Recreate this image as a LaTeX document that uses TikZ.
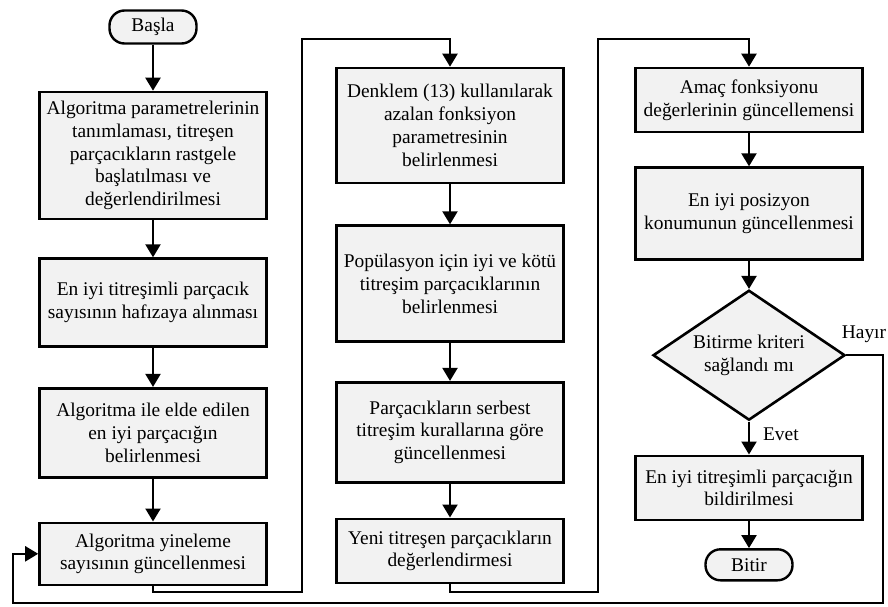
\documentclass[tikz,border=0pt]{standalone}
\usepackage{fontspec}
\setmainfont{Liberation Serif}
\usetikzlibrary{arrows.meta, positioning, shapes.geometric}
\definecolor{boxfill}{HTML}{F2F2F2}
\newcommand{\flowfont}{\fontsize{19.4}{22.8}\selectfont}
\tikzset{
  procbox/.style={
    draw=black, fill=boxfill, line width=2.6pt, align=center,
    inner sep=2pt, minimum width=227pt, minimum height=#1, font=\flowfont
  },
  procbox/.default=60pt,
  termbox/.style={
    draw=black, fill=boxfill, rounded corners=15pt, line width=2.4pt,
    minimum width=87pt, minimum height=#1, inner sep=2pt, font=\flowfont
  },
  termbox/.default=32pt,
  decbox/.style={
    diamond, draw=black, fill=boxfill, line width=2.6pt, align=center,
    aspect=1.5, inner sep=0pt, minimum width=192pt, minimum height=130pt,
    font=\flowfont
  },
  flowlbl/.style={font=\flowfont, inner sep=0pt},
  arrow/.style={-{Triangle[length=13pt,width=15pt]}, line width=2.2pt}
}

\begin{document}
\begin{tikzpicture}[x=1pt, y=-1pt]
  \useasboundingbox (0,0) rectangle (888,606);
  % first column
  \node[termbox=33pt] (basla) at (153,27) {Başla};
  \node[procbox=127pt, below=46pt of basla] (init) {Algoritma parametrelerinin\\tanımlaması, titreşen\\parçacıkların rastgele\\başlatılması ve\\değerlendirilmesi};
  \node[procbox=88pt, below=37pt of init] (memo) {En iyi titreşimli parçacık\\sayısının hafızaya alınması};
  \node[procbox=89pt, below=39pt of memo] (best) {Algoritma ile elde edilen\\en iyi parçacığın\\belirlenmesi};
  \node[procbox=62pt, below=43pt of best] (iter) {Algoritma yineleme\\sayısının güncellenmesi};
  % second column
  \node[procbox=115pt] (denklem) at (450,125.5) {Denklem (13) kullanılarak\\azalan fonksiyon\\parametresinin\\belirlenmesi};
  \node[procbox=116pt, below=40pt of denklem] (pop) {Popülasyon için iyi ve kötü\\titreşim parçacıklarının\\belirlenmesi};
  \node[procbox=100pt, below=38pt of pop] (serbest) {Parçacıkların serbest\\titreşim kurallarına göre\\güncellenmesi};
  \node[procbox=64pt, below=34pt of serbest] (yeni) {Yeni titreşen parçacıkların\\değerlendirmesi};
  % third column
  \node[procbox=64pt] (amac) at (749,100) {Amaç fonksiyonu\\değerlerinin güncellemensi};
  \node[procbox=92pt, below=33pt of amac] (pos) {En iyi posizyon\\konumunun güncellenmesi};
  \node[decbox, below=28pt of pos] (dec) {Bitirme kriteri\\sağlandı mı};
  \node[procbox=64pt, below=33pt of dec] (report) {En iyi titreşimli parçacığın\\bildirilmesi};
  \node[termbox=31pt, below=27pt of report] (bitir) {Bitir};
  \node[flowlbl] (hayir) at (864,334) {Hayır};

  % bends of the long connectors
  \coordinate (dropA) at (302,592);
  \coordinate (riseA) at (302,39);
  \coordinate (dropB) at (598,592);
  \coordinate (riseB) at (598,39);
  \coordinate (backR) at (883,603);
  \coordinate (backL) at (13,603);

  \draw[arrow] (basla) -- (init);
  \draw[arrow] (init) -- (memo);
  \draw[arrow] (memo) -- (best);
  \draw[arrow] (best) -- (iter);
  \draw[arrow] (iter.south) |- (dropA) -- (riseA) -| (denklem.north);
  \draw[arrow] (denklem) -- (pop);
  \draw[arrow] (pop) -- (serbest);
  \draw[arrow] (serbest) -- (yeni);
  \draw[arrow] (yeni.south) |- (dropB) -- (riseB) -| (amac.north);
  \draw[arrow] (amac) -- (pos);
  \draw[arrow] (pos) -- (dec);
  \draw[arrow] (dec) -- node[flowlbl, pos=0.4, right=13pt] {Evet} (report);
  \draw[arrow] (report) -- (bitir);
  \draw[arrow] (dec.east) -| (backR) -- (backL) |- (iter.west);
\end{tikzpicture}
\end{document}
